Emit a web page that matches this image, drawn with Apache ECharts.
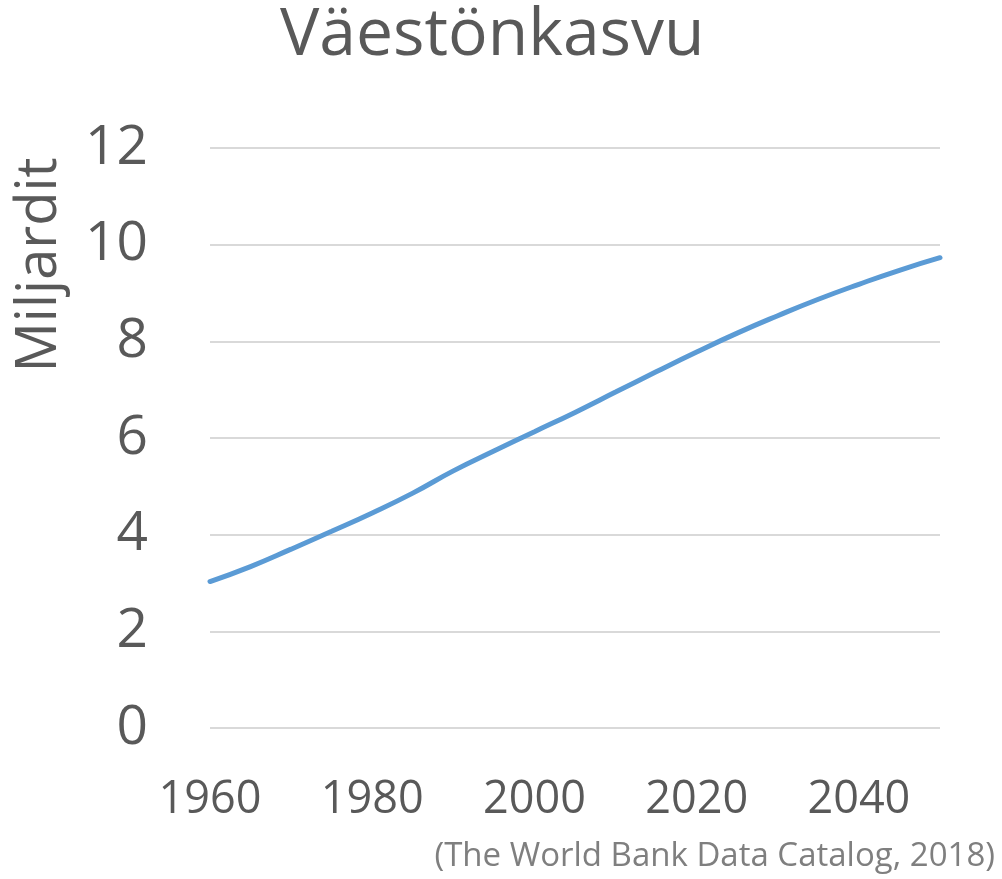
<!DOCTYPE html>
<html>
<head>
<meta charset="utf-8">
<script src="https://cdn.jsdelivr.net/npm/echarts@6/dist/echarts.min.js"></script>
<style>html,body{margin:0;padding:0;background:#fff}#c{width:1002px;height:879px}</style>
</head>
<body>
<div id="c"></div>
<script>
const years = [1960,1965,1970,1975,1980,1985,1990,1995,2000,2005,2010,2015,2020,2025,2030,2035,2040,2045,2050];
const population = [3.03,3.34,3.70,4.07,4.45,4.86,5.32,5.73,6.13,6.53,6.95,7.37,7.78,8.17,8.53,8.87,9.18,9.47,9.73];
const yTicks = [0,2,4,6,8,10,12];
const xTickLabels = [1960,1980,2000,2020,2040];
const titleText = 'Väestönkasvu';
const yAxisName = 'Miljardit';
const sourceText = '(The World Bank Data Catalog, 2018)';

const font = '"Open Sans", sans-serif';
const chart = echarts.init(document.getElementById('c'));
chart.setOption({
  animation: false,
  title: {
    text: titleText, left: 275, top: -2,
    textStyle: {fontFamily: font, fontSize: 66, fontWeight: 'normal', color: '#595959'}
  },
  graphic: [{
    type: 'text', right: 7, bottom: 6,
    style: {text: sourceText, font: '33px "Open Sans", sans-serif', fill: '#7f7f7f'}
  }, {
    type: 'text', x: 40, y: 265, rotation: Math.PI / 2,
    style: {text: yAxisName, font: '56px "Open Sans", sans-serif', fill: '#595959',
            align: 'center', verticalAlign: 'middle'}
  }],
  grid: {left: 210, right: 62, top: 148, bottom: 151},
  xAxis: {
    type: 'value', min: 1960, max: 2050, interval: 20,
    axisLine: {show: false}, axisTick: {show: false}, splitLine: {show: false},
    axisLabel: {
      fontFamily: font, fontSize: 45, color: '#595959', margin: 50,
      formatter: v => xTickLabels.includes(v) ? String(v) : ''
    }
  },
  yAxis: {
    type: 'value', min: yTicks[0], max: yTicks[yTicks.length-1], interval: 2,
    axisLine: {show: false}, axisTick: {show: false},
    splitLine: {lineStyle: {color: '#d9d9d9', width: 2}},
    axisLabel: {fontFamily: font, fontSize: 55, color: '#595959', margin: 62}
  },
  series: [{
    type: 'line', data: years.map((y,i)=>[y, population[i]]),
    smooth: true, showSymbol: false,
    lineStyle: {color: '#5b9bd5', width: 5, cap: 'round'}
  }]
});
</script>
</body>
</html>
